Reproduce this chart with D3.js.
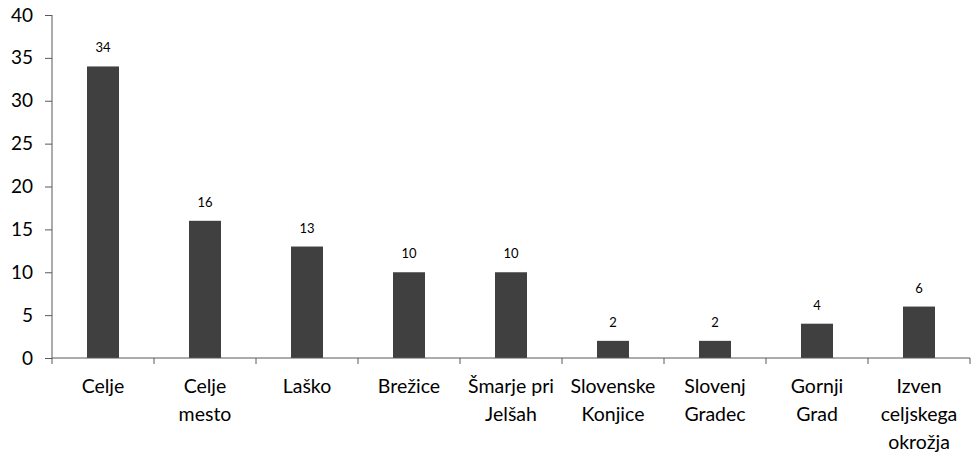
<!DOCTYPE html>
<html><head><meta charset="utf-8">
<script src="https://cdn.jsdelivr.net/npm/d3@7"></script>
<style>body{margin:0;background:#fff}svg{display:block}text{font-family:Lato,"Open Sans",sans-serif;fill:#000}</style>
</head><body><svg id="c" width="974" height="455"></svg>
<script>
const categories = ["Celje", "Celje\nmesto", "Laško", "Brežice", "Šmarje pri\nJelšah", "Slovenske\nKonjice", "Slovenj\nGradec", "Gornji\nGrad", "Izven\nceljskega\nokrožja"];
const values = [34, 16, 13, 10, 10, 2, 2, 4, 6];
const yTicks = [0, 5, 10, 15, 20, 25, 30, 35, 40];

const svg = d3.select("#c");
const m = {l: 52, r: 4, t: 15, b: 97};
const W = 974, H = 455;
const x = d3.scaleBand().domain(categories).range([m.l, W - m.r]).paddingInner(0).paddingOuter(0);
const y = d3.scaleLinear().domain([0, 40]).range([H - m.b, m.t]);
const bw = 32;

svg.selectAll("rect.bar").data(values).enter().append("rect")
  .attr("x", (d, i) => x(categories[i]) + x.bandwidth() / 2 - bw / 2)
  .attr("y", d => y(d)).attr("width", bw).attr("height", d => y(0) - y(d))
  .attr("fill", "#404040");

svg.selectAll("text.val").data(values).enter().append("text")
  .attr("x", (d, i) => x(categories[i]) + x.bandwidth() / 2)
  .attr("y", d => y(d) - 14).attr("text-anchor", "middle").attr("font-size", 13).text(d => d);

// y axis
const ya = svg.append("g").attr("transform", `translate(${m.l},0)`)
  .call(d3.axisLeft(y).tickValues(yTicks).tickSize(7).tickPadding(12));
ya.selectAll("path,line").attr("stroke", "#595959").attr("stroke-width", 1);
ya.select(".domain").attr("d", `M0,${y(40)}V${y(0)}`);
ya.selectAll("text").attr("font-size", 19).attr("font-family", "Lato");

// x axis
const xa = svg.append("g").attr("transform", `translate(0,${y(0)})`);
xa.append("line").attr("x1", m.l).attr("x2", W - m.r).attr("stroke", "#595959");
const edges = categories.map(c => x(c)).concat([x(categories[categories.length - 1]) + x.bandwidth()]);
xa.selectAll("line.t").data(edges).enter().append("line")
  .attr("x1", d => d).attr("x2", d => d).attr("y1", 0).attr("y2", 6).attr("stroke", "#595959");
categories.forEach(c => {
  const t = xa.append("text").attr("text-anchor", "middle").attr("font-size", 19.5)
    .attr("x", x(c) + x.bandwidth() / 2);
  c.split("\n").forEach((line, j) => t.append("tspan").attr("x", x(c) + x.bandwidth() / 2).attr("y", 35 + j * 28).text(line));
});
</script></body></html>
